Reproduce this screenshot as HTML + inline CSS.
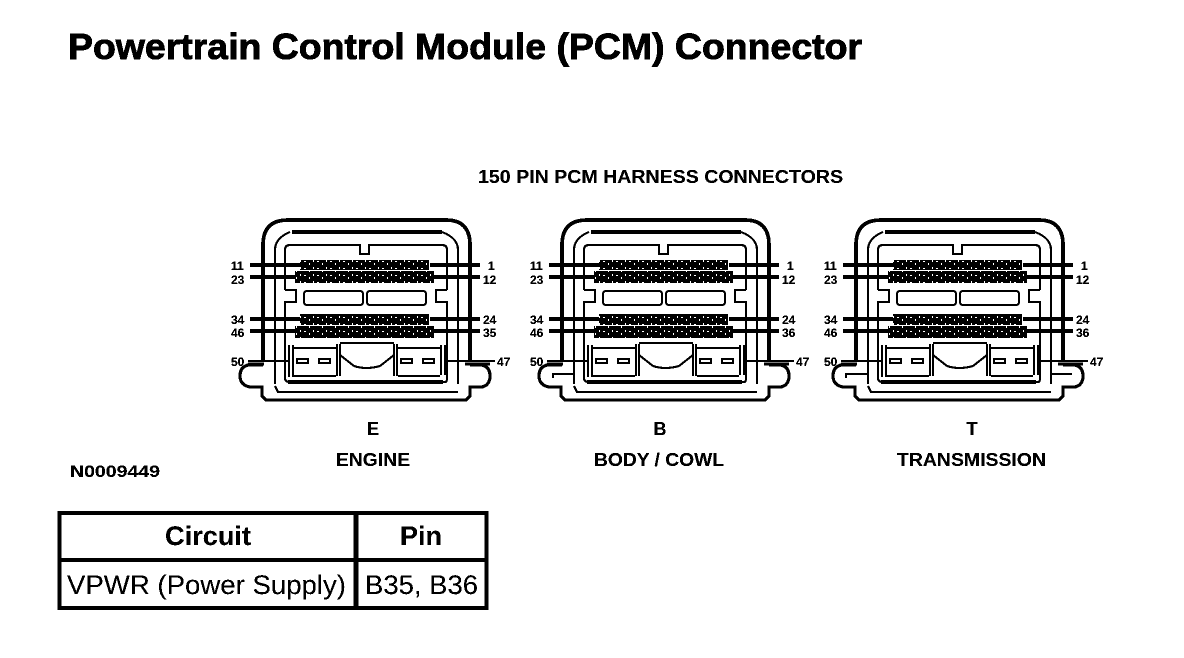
<!DOCTYPE html>
<html><head><meta charset="utf-8"><style>
html,body{margin:0;padding:0;background:#fff}
svg{display:block}
text{font-family:"Liberation Sans",sans-serif;fill:#000}
.b{font-weight:bold}
.s{font-size:12px;font-weight:bold}
.h{stroke:#000;stroke-width:.7px}
</style></head><body>
<svg width="1184" height="658" viewBox="0 0 1184 658" xmlns="http://www.w3.org/2000/svg">
<defs>
<filter id="bin" x="0" y="0" width="100%" height="100%" color-interpolation-filters="sRGB">
<feComponentTransfer>
<feFuncR type="discrete" tableValues="0 0 1"/>
<feFuncG type="discrete" tableValues="0 0 1"/>
<feFuncB type="discrete" tableValues="0 0 1"/>
</feComponentTransfer>
</filter>
<pattern id="pins" width="13" height="7" patternUnits="userSpaceOnUse">
<rect width="13" height="7" fill="#000"/>
<rect x="1" y="1" width="1" height="2" fill="#fff"/>
<rect x="5" y="2" width="2" height="1" fill="#fff"/>
<rect x="10" y="4" width="1" height="2" fill="#fff"/>
</pattern>
<g id="conn" fill="none" stroke="#000">
<path d="M263 362V245Q263 220 288 220H446Q470 220 470 245V362" stroke-width="3.500"/>
<path d="M263 365H248Q240 367 240 376Q240 385 250 387H262V396L266 400H466L470 396V387H482Q490 385 490 376Q490 367 482 365H470" stroke-width="3"/>
<path d="M275 384V250Q275 238 290 232M458 384V250Q458 238 442 232" stroke-width="2"/>
<path d="M292 232H442" stroke-width="3.500"/>
<path d="M275 386L278 392H458" stroke-width="2"/>
<path d="M285 290V250Q285 245 290 245H360V254H369V245H442Q447 245 447 250V290" stroke-width="2"/>
<path d="M285 290H296V302H285V378Q285 382 290 382H445Q447 382 447 378V302H436V290H447" stroke-width="2"/>
<path d="M288 382H443" stroke-width="4"/>
<rect x="300" y="260" width="129" height="10" fill="url(#pins)" stroke="none"/>
<rect x="295" y="271" width="139" height="12" fill="url(#pins)" stroke="none"/>
<rect x="300" y="314" width="129" height="11" fill="url(#pins)" stroke="none"/>
<rect x="295" y="326" width="139" height="12" fill="url(#pins)" stroke="none"/>
<rect x="304" y="291" width="59" height="14" rx="3" stroke-width="2"/>
<rect x="367" y="291" width="59" height="14" rx="3" stroke-width="2"/>
<path d="M250 265H300M250 277H296M250 319H300M250 331H296M430 265H480M434 277H480M430 319H480M434 331H480" stroke-width="3.500"/>
<path d="M248 361H290M445 361H495" stroke-width="2"/>
<path d="M465 364H490M248 364H264" stroke-width="3"/>
<path d="M289 345V377M293 345V377M294 348H336M294 376H336M337 344V376M340 344V376" stroke-width="2"/>
<path d="M340 343H394M340 355L354 366Q366 370 380 366L394 355" stroke-width="2"/>
<path d="M394 344V376M397 344V376M398 348H440M398 376H440M441 345V375M445 345V375" stroke-width="2"/>
<rect x="297" y="359" width="11" height="4" stroke-width="2"/>
<rect x="319" y="359" width="11" height="4" stroke-width="2"/>
<rect x="401" y="359" width="11" height="4" stroke-width="2"/>
<rect x="423" y="359" width="11" height="4" stroke-width="2"/>
</g>
</defs>

<g filter="url(#bin)">
<rect width="1184" height="658" fill="#fff"/>
<text x="68" y="59" class="b h" font-size="36" textLength="794" lengthAdjust="spacingAndGlyphs">Powertrain Control Module (PCM) Connector</text>
<text x="478" y="183" class="b" font-size="18" textLength="365" lengthAdjust="spacingAndGlyphs">150 PIN PCM HARNESS CONNECTORS</text>

<use href="#conn"/>
<use href="#conn" x="299"/>
<use href="#conn" x="593"/>
<path d="M553 378V374H575M846 378V374H869M1052 374H1072" fill="none" stroke="#000" stroke-width="2"/>

<text x="231" y="270" class="s">11</text><text x="231" y="284" class="s">23</text><text x="231" y="324" class="s">34</text><text x="231" y="337" class="s">46</text><text x="231" y="366" class="s">50</text>
<text x="488" y="270" class="s">1</text><text x="483" y="284" class="s">12</text><text x="483" y="324" class="s">24</text><text x="483" y="337" class="s">35</text><text x="497" y="366" class="s">47</text>

<text x="530" y="270" class="s">11</text><text x="530" y="284" class="s">23</text><text x="530" y="324" class="s">34</text><text x="530" y="337" class="s">46</text><text x="530" y="366" class="s">50</text>
<text x="787" y="270" class="s">1</text><text x="782" y="284" class="s">12</text><text x="782" y="324" class="s">24</text><text x="782" y="337" class="s">36</text><text x="796" y="366" class="s">47</text>

<text x="824" y="270" class="s">11</text><text x="824" y="284" class="s">23</text><text x="824" y="324" class="s">34</text><text x="824" y="337" class="s">46</text><text x="824" y="366" class="s">50</text>
<text x="1081" y="270" class="s">1</text><text x="1076" y="284" class="s">12</text><text x="1076" y="324" class="s">24</text><text x="1076" y="337" class="s">36</text><text x="1090" y="366" class="s">47</text>

<text x="373" y="435" class="b" font-size="18" text-anchor="middle">E</text>
<text x="660" y="435" class="b" font-size="18" text-anchor="middle">B</text>
<text x="972" y="435" class="b" font-size="18" text-anchor="middle">T</text>
<text x="336" y="466" class="b" font-size="18" textLength="74" lengthAdjust="spacingAndGlyphs">ENGINE</text>
<text x="594" y="466" class="b" font-size="18" textLength="130" lengthAdjust="spacingAndGlyphs">BODY / COWL</text>
<text x="897" y="466" class="b" font-size="18" textLength="149" lengthAdjust="spacingAndGlyphs">TRANSMISSION</text>
<text x="70" y="477" class="b" font-size="17" textLength="90" lengthAdjust="spacingAndGlyphs">N0009449</text>

<rect x="59.500" y="513" width="427" height="95" fill="none" stroke="#000" stroke-width="4"/>
<path d="M356 513V608" stroke="#000" stroke-width="5"/>
<path d="M59 560H487" stroke="#000" stroke-width="4"/>
<text x="208" y="545" class="b" font-size="27" text-anchor="middle" textLength="86" lengthAdjust="spacingAndGlyphs">Circuit</text>
<text x="421" y="545" class="b" font-size="27" text-anchor="middle" textLength="42" lengthAdjust="spacingAndGlyphs">Pin</text>
<text x="67" y="594" font-size="27" textLength="279" lengthAdjust="spacingAndGlyphs">VPWR (Power Supply)</text>
<text x="365" y="594" font-size="27" textLength="113" lengthAdjust="spacingAndGlyphs">B35, B36</text>
</g>
</svg>
</body></html>
